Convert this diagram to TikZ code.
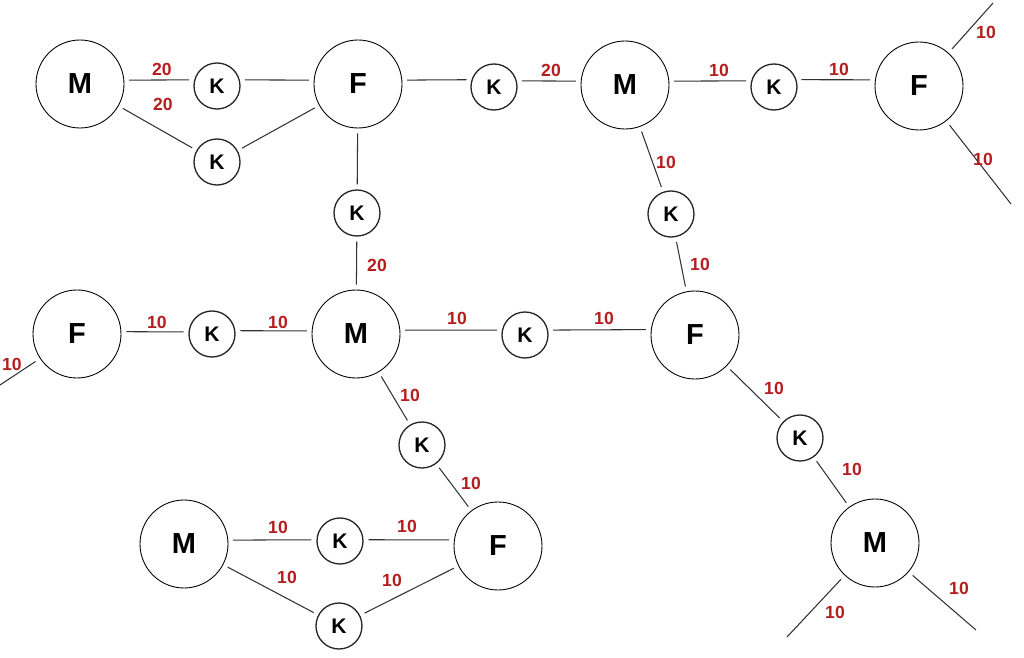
\documentclass[tikz,border=0pt]{standalone}
\usepackage{fontspec}
\setmainfont{Liberation Sans}
\definecolor{lab}{RGB}{180,30,30}
\definecolor{ln}{RGB}{50,50,50}
\begin{document}
\begin{tikzpicture}[x=0.02cm,y=-0.02cm,
  big/.style={circle,draw=black,line width=0.5pt,minimum size=88*0.02cm,inner sep=0pt,font=\fontsize{16.5}{18}\selectfont\bfseries},
  kk/.style={circle,draw=black!85,line width=0.75pt,minimum size=46*0.02cm,inner sep=0pt,font=\fontsize{12}{13}\selectfont\bfseries},
  lbl/.style={text=lab,font=\fontsize{10}{12}\selectfont\bfseries,inner sep=0pt},
  con/.style={draw=ln,line width=0.6pt,shorten >=2.8pt,shorten <=2.8pt},
  stub/.style={draw=ln,line width=0.6pt,shorten <=3pt}]
\useasboundingbox (0,0) rectangle (1024,658);
% big nodes
\node[big] (M1) at (80,84) {M};
\node[big] (F1) at (358,84) {F};
\node[big] (M3) at (625,85) {M};
\node[big] (F2) at (919,86) {F};
\node[big] (F4) at (77,334) {F};
\node[big] (M2) at (356,334) {M};
\node[big] (F3) at (695,335) {F};
\node[big] (M5) at (184,544) {M};
\node[big] (F5) at (498,546) {F};
\node[big] (M4) at (875,543) {M};
% K nodes
\node[kk] (K1) at (217,86) {K};
\node[kk] (K2) at (217,162) {K};
\node[kk] (K3) at (357,213) {K};
\node[kk] (K4) at (494,87) {K};
\node[kk] (K5) at (774,87) {K};
\node[kk] (K6) at (671,214) {K};
\node[kk] (K9) at (212,334) {K};
\node[kk] (K7) at (525,335) {K};
\node[kk] (K10) at (422,445) {K};
\node[kk] (K8) at (800,438) {K};
\node[kk] (K11) at (340,541) {K};
\node[kk] (K12) at (339,626) {K};
% free ends
\coordinate (e1) at (993,3);
\coordinate (e2) at (1011,204);
\coordinate (e3) at (0,385);
\coordinate (e4) at (787,637);
\coordinate (e5) at (976,630);
% connectors
\draw[con] (M1.5) -- (K1.165);
\draw[con] (K1.15) -- (F1.175);
\draw[con] (M1) -- (K2);
\draw[con] (K2) -- (F1);
\draw[con] (F1) -- (K3);
\draw[con] (K3) -- (M2);
\draw[con] (F1.5) -- (K4.162);
\draw[con] (K4.15) -- (M3.175);
\draw[con] (M3.5) -- (K5.165);
\draw[con] (K5.18) -- (F2.172);
\draw[con] (M3) -- (K6);
\draw[con] (K6) -- (F3);
\draw[con] (F4.3) -- (K9.175);
\draw[con] (K9.8) -- (M2.176);
\draw[con] (M2.5) -- (K7.168);
\draw[con] (K7.12) -- (F3.173);
\draw[con] (F3) -- (K8);
\draw[con] (K8) -- (M4);
\draw[con] (M2) -- (K10);
\draw[con] (K10) -- (F5);
\draw[con] (M5.5) -- (K11.177);
\draw[con] (K11.3) -- (F5.172);
\draw[con] (M5) -- (K12);
\draw[con] (K12) -- (F5);
\draw[stub] (F2) -- (e1);
\draw[stub] (F2) -- (e2);
\draw[stub] (F4) -- (e3);
\draw[stub] (M4) -- (e4);
\draw[stub] (M4) -- (e5);
% labels
\node[lbl] (l1) at (162,69) {20};
\node[lbl] (l2) at (163,104) {20};
\node[lbl] (l3) at (377,265) {20};
\node[lbl] (l4) at (551,70) {20};
\node[lbl] (l5) at (719,70) {10};
\node[lbl] (l6) at (839,69) {10};
\node[lbl] (l7) at (986,32) {10};
\node[lbl] (l8) at (983,159) {10};
\node[lbl] (l9) at (666,162) {10};
\node[lbl] (l10) at (700,264) {10};
\node[lbl] (l11) at (604,318) {10};
\node[lbl] (l12) at (774,388) {10};
\node[lbl] (l13) at (852,469) {10};
\node[lbl] (l14) at (835,612) {10};
\node[lbl] (l15) at (959,588) {10};
\node[lbl] (l16) at (12,364) {10};
\node[lbl] (l17) at (157,322) {10};
\node[lbl] (l18) at (278,322) {10};
\node[lbl] (l19) at (457,318) {10};
\node[lbl] (l20) at (410,395) {10};
\node[lbl] (l21) at (471,483) {10};
\node[lbl] (l22) at (278,527) {10};
\node[lbl] (l23) at (407,526) {10};
\node[lbl] (l24) at (287,577) {10};
\node[lbl] (l25) at (392,580) {10};
\end{tikzpicture}
\end{document}
